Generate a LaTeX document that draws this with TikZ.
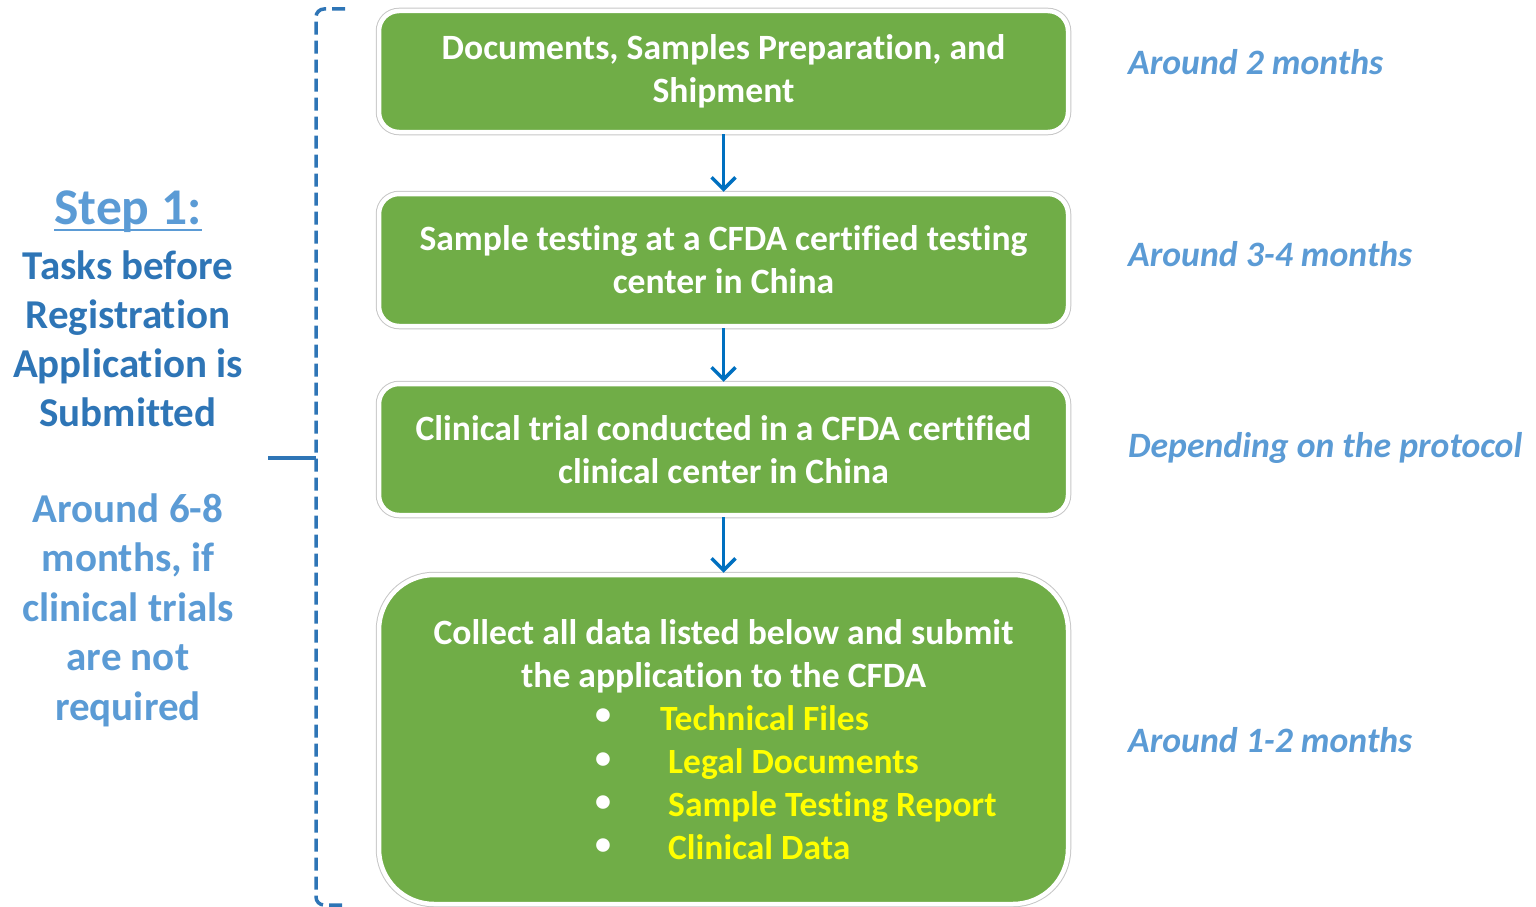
\documentclass[tikz,border=0pt]{standalone}
\usepackage{fontspec}
\setmainfont{Carlito}[Ligatures=NoCommon]
\usetikzlibrary{arrows.meta}
\definecolor{boxgreen}{HTML}{70AD47}
\definecolor{arrblue}{HTML}{0070C0}
\definecolor{darkblue}{HTML}{2E75B6}
\definecolor{lightblue}{HTML}{5B9BD5}
\definecolor{itemyellow}{HTML}{FFFF00}
\newcommand\myuline[1]{\setbox0\hbox{#1}\rlap{\rule[-6pt]{\wd0}{2.2pt}}\box0}
\tikzset{
  box/.style={fill=boxgreen, draw=white, line width=4.5pt,
    preaction={draw=black!22, line width=6.5pt},
    rounded corners=20pt, text=white, align=center,
    font=\fontsize{35.6}{43}\selectfont\bfseries},
  bigbox/.style={box, rounded corners=55pt},
  flowarrow/.style={draw=arrblue, line width=3.5pt, -{Straight Barb[length=12pt,width=24pt]}},
  bracket/.style={draw=darkblue, line width=3.5pt, dash pattern=on 13pt off 6pt, rounded corners=8pt},
  tick/.style={draw=darkblue, line width=3.5pt},
  lefthead/.style={text=lightblue, align=center, font=\fontsize{51.5}{55}\selectfont\bfseries},
  leftdark/.style={text=darkblue, align=center, font=\fontsize{41}{49}\selectfont\bfseries},
  leftlight/.style={text=lightblue, align=center, font=\fontsize{41}{49.5}\selectfont\bfseries},
  duration/.style={text=lightblue, anchor=west, inner sep=0pt, font=\fontsize{35.7}{40}\selectfont\bfseries\itshape},
  bullet/.style={text=white, inner sep=0pt, font=\fontsize{32}{36}\selectfont\bfseries},
  item/.style={text=itemyellow, anchor=base west, inner sep=0pt, font=\fontsize{35.5}{43}\selectfont\bfseries},
  boxtext/.style={text=white, align=center, inner sep=0pt, font=\fontsize{35.6}{43}\selectfont\bfseries}
}
\begin{document}
\begin{tikzpicture}[x=1pt,y=1pt]
\useasboundingbox (0,0) rectangle (1536,-907);
% boxes
\node[box, minimum width=689pt, minimum height=121pt] (b1) at (723.5,-71.5)
  {Documents, Samples Preparation, and\\Shipment};
\node[box, minimum width=689pt, minimum height=132pt] (b2) at (723.5,-260)
  {Sample testing at a CFDA certified testing\\center in China};
\node[box, minimum width=689pt, minimum height=131pt] (b3) at (723.5,-449.5)
  {Clinical trial conducted in a CFDA certified\\clinical center in China};
\node[bigbox, minimum width=689pt, minimum height=329pt] (b4) at (723.5,-739.5) {};
\node[boxtext] (b4t) at (723.5,-656)
  {Collect all data listed below and submit\\the application to the CFDA};
\node[bullet] (u1) at (603,-717) {•};
\node[bullet] (u2) at (603,-761) {•};
\node[bullet] (u3) at (603,-804) {•};
\node[bullet] (u4) at (603,-847) {•};
\node[item] (i1) at (660,-730) {Technical Files};
\node[item] (i2) at (668,-773) {Legal Documents};
\node[item] (i3) at (668,-816) {Sample Testing Report};
\node[item] (i4) at (668,-859) {Clinical Data};
% arrows
\draw[flowarrow] (b1.south) -- (b2.north);
\draw[flowarrow] (b2.south) -- (b3.north);
\draw[flowarrow] (b3.south) -- (b4.north);
% bracket
\coordinate (bt) at (345,-9);
\coordinate (btc) at (316,-9);
\coordinate (bbc) at (316,-905);
\coordinate (bb) at (345,-905);
\coordinate (bm) at (316,-458);
\coordinate (tk) at (268,-458);
\draw[bracket] (bt) -- (btc) -- (bbc) -- (bb);
\draw[tick] (tk) -- (bm);
% left texts
\node[lefthead] (step) at (128,-212) {\myuline{Step 1:}};
\node[leftdark] (tasks) at (128,-339) {Tasks before\\Registration\\Application is\\Submitted};
\node[leftlight] (around) at (128,-610) {Around 6-8\\months, if\\clinical trials\\are not\\required};
% durations
\node[duration] (d1) at (1128,-62) {Around 2 months};
\node[duration] (d2) at (1128,-254) {Around 3-4 months};
\node[duration] (d3) at (1128,-448) {Depending on the protocol};
\node[duration] (d4) at (1128,-740) {Around 1-2 months};
\end{tikzpicture}
\end{document}
